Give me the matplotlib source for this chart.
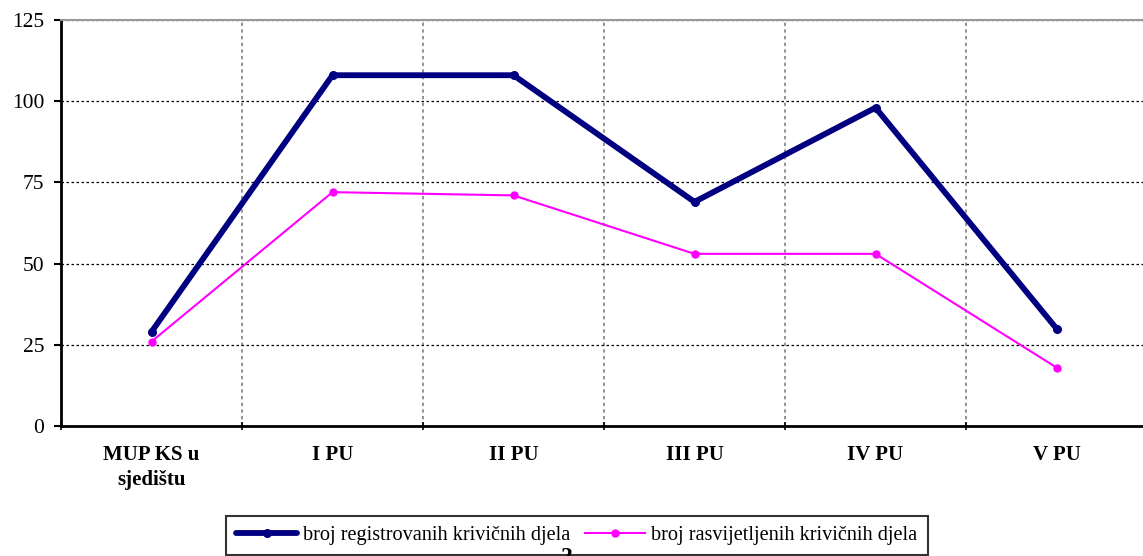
import matplotlib
matplotlib.use("Agg")
import matplotlib.pyplot as plt
import numpy as np

# data
categories = ["MUP KS u\nsjedištu", "I PU", "II PU", "III PU", "IV PU", "V PU"]
registered = [29, 108, 108, 69, 98, 30]
solved = [26, 72, 71, 53, 53, 18]
y_ticks = [0, 25, 50, 75, 100, 125]
labels = ["broj registrovanih krivičnih djela", "broj rasvijetljenih krivičnih djela"]

plt.rcParams["font.family"] = ["Liberation Serif", "DejaVu Serif"]

fig = plt.figure(figsize=(11.43, 5.56), dpi=100)
# plot area runs slightly past the right edge of the picture (clipped, as in the reference)
ax = fig.add_axes([61 / 1143, 130 / 556, 1086 / 1143, 406 / 556])

x = np.arange(len(categories))
ax.plot(x, registered, color="#000080", lw=4.2, marker="o", ms=5.5,
        solid_joinstyle="round", solid_capstyle="round", label=labels[0], zorder=3)
ax.plot(x, solved, color="#FF00FF", lw=1.5, marker="o", ms=5,
        label=labels[1], zorder=4)

ax.set_xlim(-0.5, len(categories) - 0.5)
ax.set_ylim(0, 125)
ax.set_yticks(y_ticks)
ax.set_xticks(x)
ax.set_xticklabels(categories, fontweight="bold", fontsize=15, linespacing=1.3)
ax.set_xticks(np.arange(len(categories) + 1) - 0.5, minor=True)

ax.tick_params(axis="x", which="major", length=0, pad=14)
ax.tick_params(axis="x", which="minor", length=6, width=1.2, direction="inout", color="black")
ax.tick_params(axis="y", length=5, width=1.5, direction="out", labelsize=15.5, pad=7)

# grids
ax.yaxis.grid(True, linestyle=(0, (2, 2)), color="black", lw=0.9)
ax.xaxis.grid(True, which="minor", linestyle=(0, (2, 2)), color="#808080", lw=1.2)
ax.xaxis.grid(False, which="major")
ax.set_axisbelow(True)

ax.spines["left"].set_linewidth(2)
ax.spines["bottom"].set_linewidth(2)
ax.spines["top"].set_color("#999999")
ax.spines["top"].set_linewidth(1.5)
ax.spines["right"].set_visible(False)

leg = fig.legend(loc="upper left", bbox_to_anchor=(226 / 1143, (556 - 516) / 556),
                 ncol=2, frameon=True, fancybox=False, edgecolor="black",
                 fontsize=14.6, handlelength=3.0, handletextpad=0.3, columnspacing=0.7,
                 borderpad=0.5, borderaxespad=0)
leg.get_frame().set_linewidth(1.5)

# page number peeking in at the bottom (cut off by the page edge, as in the reference)
fig.text(567 / 1143, -12 / 556, "2", fontsize=17, fontweight="bold",
         ha="center", va="bottom", zorder=10)

fig.savefig("out.png", dpi=100)
